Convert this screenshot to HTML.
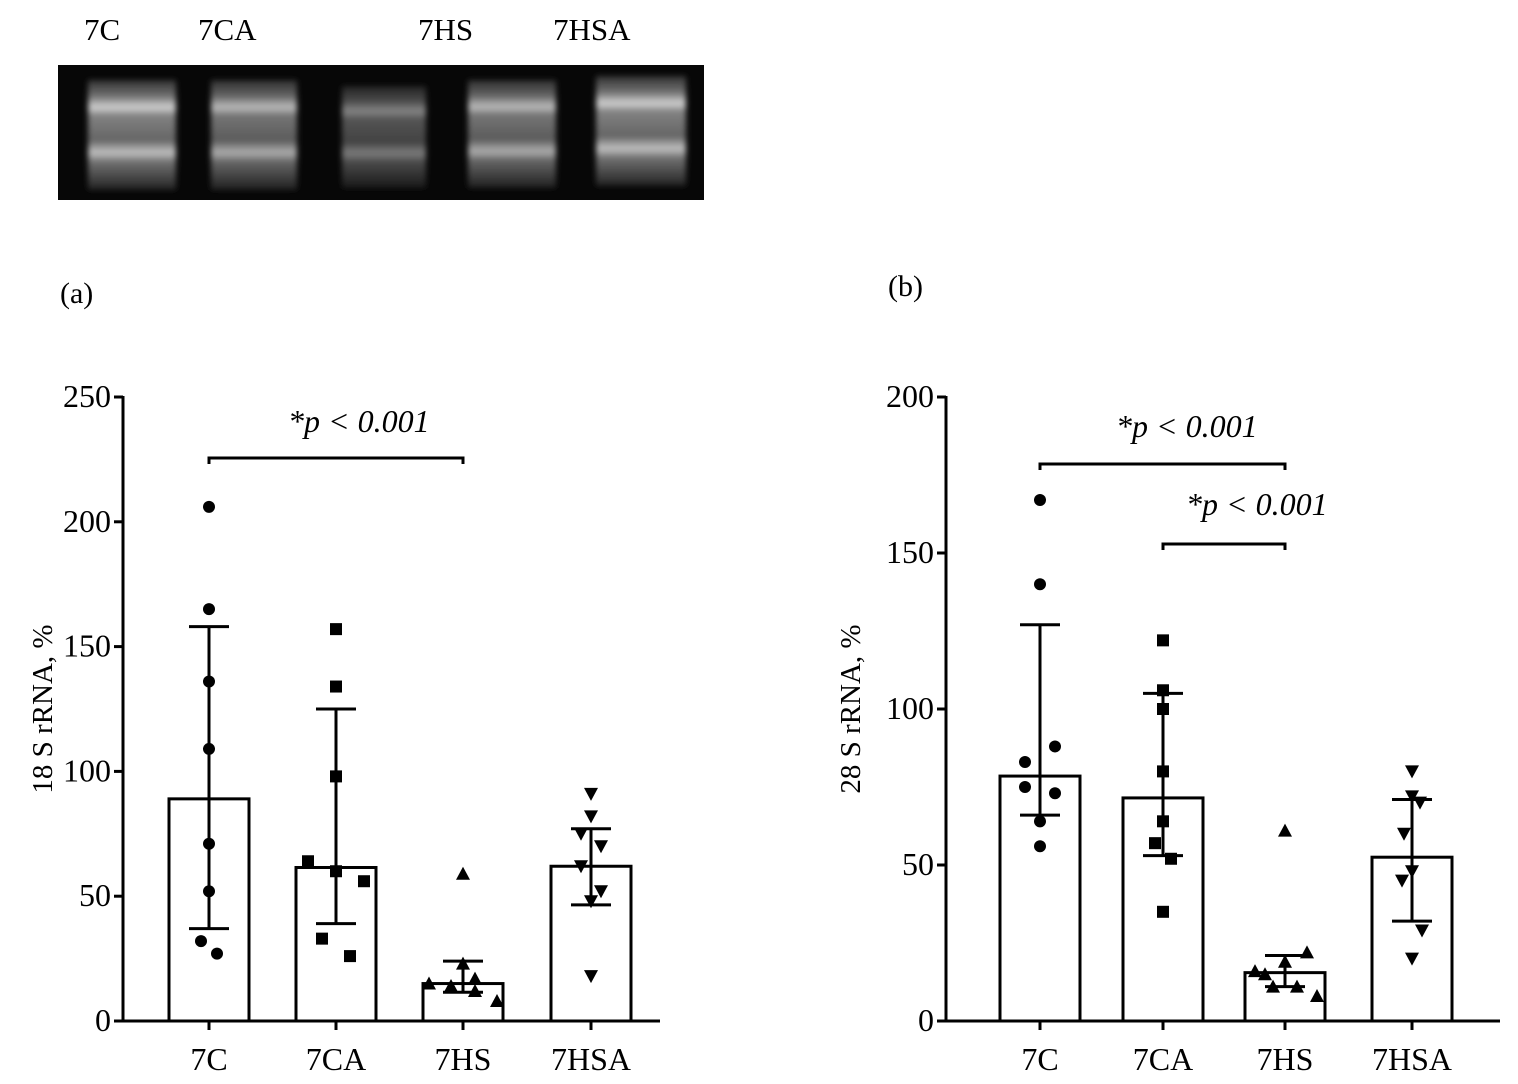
<!DOCTYPE html>
<html><head><meta charset="utf-8"><style>
html,body{margin:0;padding:0;background:#fff;}
svg{display:block;font-family:"Liberation Serif",serif;}
</style></head><body>
<svg id="s" width="1518" height="1084" viewBox="0 0 1518 1084">
<defs>
<linearGradient id="lane" x1="0" y1="0" x2="0" y2="1">
<stop offset="0" stop-color="#333"/><stop offset="0.15" stop-color="#777"/><stop offset="0.25" stop-color="#ddd"/><stop offset="0.32" stop-color="#888"/>
<stop offset="0.55" stop-color="#6a6a6a"/><stop offset="0.66" stop-color="#ccc"/><stop offset="0.74" stop-color="#777"/><stop offset="0.9" stop-color="#444"/><stop offset="1" stop-color="#222"/>
</linearGradient>
<filter id="blur"><feGaussianBlur stdDeviation="3"/></filter>
</defs>
<g>
<rect x="58" y="65" width="646" height="135" fill="#070707"/>
<g filter="url(#blur)">
<rect x="88" y="80" width="88" height="110" fill="url(#lane)" opacity="0.95"/>
<rect x="211" y="80" width="86" height="110" fill="url(#lane)" opacity="0.85"/>
<rect x="342" y="86" width="84" height="102" fill="url(#lane)" opacity="0.6"/>
<rect x="468" y="80" width="88" height="108" fill="url(#lane)" opacity="0.85"/>
<rect x="596" y="76" width="90" height="110" fill="url(#lane)" opacity="0.95"/>
</g>
</g>
<g font-size="31">
<text x="84" y="40">7C</text>
<text x="198" y="40">7CA</text>
<text x="418" y="40">7HS</text>
<text x="553" y="40">7HSA</text>
</g>
<text x="60" y="303" font-size="30">(a)</text>
<text x="888" y="296" font-size="30">(b)</text>
<g id="ga"></g>
<g id="gb"></g>
</svg>
<script>
const categories = ["7C","7CA","7HS","7HSA"];
const shapes = ["circle","square","triangle","down"];
const aMeans = [89, 61.5, 15, 62];
const aLow = [37, 39, 11.5, 46.5];
const aHigh = [158, 125, 24, 77];
const aPts7C = [206, 165, 136, 109, 71, 52, 32, 27];
const aPts7CA = [157, 134, 98, 64, 60, 56, 33, 26];
const aPts7HS = [59, 23, 17, 15, 14, 12, 8];
const aPts7HSA = [91, 82, 75, 70, 62, 52, 48, 18];
const bMeans = [78.5, 71.5, 15.5, 52.5];
const bLow = [66, 53, 11, 32];
const bHigh = [127, 105, 21, 71];
const bPts7C = [167, 140, 88, 83, 75, 73, 64, 56];
const bPts7CA = [122, 106, 100, 80, 64, 57, 52, 35];
const bPts7HS = [61, 22, 19, 16, 15, 11, 11, 8];
const bPts7HSA = [80, 72, 70, 60, 48, 45, 29, 20];
const aTicks = [0,50,100,150,200,250];
const bTicks = [0,50,100,150,200];
const jitter = {
 a:[[0,0,0,0,0,0,-8,8],[0,0,0,-28,0,28,-14,14],[0,0,12,-34,-12,12,34],[0,0,-10,10,-10,10,0,0]],
 b:[[0,0,15,-15,-15,15,0,0],[0,0,0,0,0,-8,8,0],[0,22,0,-30,-20,-12,12,32],[0,0,8,-8,0,-10,10,0]]
};
const NS="http://www.w3.org/2000/svg";
function mk(p,tag,at){const e=document.createElementNS(NS,tag);for(const k in at)e.setAttribute(k,at[k]);p.appendChild(e);return e;}
function draw(g,cfg){
 const y=v=>cfg.y0-(v/cfg.max)*(cfg.y0-cfg.yTop);
 const x=i=>cfg.cx[i];
 let e=mk(g,"line",{x1:cfg.ax,y1:cfg.yTop-1,x2:cfg.ax,y2:cfg.y0+1,stroke:"#000","stroke-width":3});
 
 
 e=mk(g,"line",{x1:cfg.ax-1,y1:cfg.y0,x2:cfg.axEnd,y2:cfg.y0,stroke:"#000","stroke-width":3});
 
 
 cfg.ticks.forEach(t=>{
  mk(g,"line",{x1:cfg.ax-9,y1:y(t),x2:cfg.ax,y2:y(t),stroke:"#000","stroke-width":3});
  const tx=mk(g,"text",{x:cfg.ax-12,y:y(t)+10,"font-size":32,"text-anchor":"end"});tx.textContent=t;
  
  
 });
 const yl=mk(g,"text",{transform:`translate(${cfg.ylx},${(cfg.y0+cfg.yTop)/2}) rotate(-90)`,"font-size":29,"text-anchor":"middle"});
 yl.textContent=cfg.ylabel;
 
 
 categories.forEach((c,i)=>{
  mk(g,"line",{x1:x(i),y1:cfg.y0,x2:x(i),y2:cfg.y0+9,stroke:"#000","stroke-width":3});
  const t=mk(g,"text",{x:x(i),y:cfg.y0+49,"font-size":32,"text-anchor":"middle"});t.textContent=c;
  
  
  const b=mk(g,"rect",{x:x(i)-40,y:y(cfg.means[i]),width:80,height:cfg.y0-y(cfg.means[i]),fill:"#fff",stroke:"#000","stroke-width":3});
  
  
  cfg.pts[i].forEach((v,j)=>{
   const px=x(i)+cfg.jit[i][j],py=y(v);let m;
   if(shapes[i]=="circle")m=mk(g,"circle",{cx:px,cy:py,r:6});
   else if(shapes[i]=="square")m=mk(g,"rect",{x:px-6,y:py-6,width:12,height:12});
   else if(shapes[i]=="triangle")m=mk(g,"polygon",{points:`${px},${py-7} ${px-7},${py+6} ${px+7},${py+6}`});
   else m=mk(g,"polygon",{points:`${px},${py+7} ${px-7},${py-6} ${px+7},${py-6}`});
   
   
  });
  const eg=mk(g,"path",{d:`M${x(i)},${y(cfg.low[i])}V${y(cfg.high[i])}M${x(i)-20},${y(cfg.high[i])}H${x(i)+20}M${x(i)-20},${y(cfg.low[i])}H${x(i)+20}`,stroke:"#000","stroke-width":3,fill:"none"});
  
  
 });
 cfg.sig.forEach(s=>{
  const yy=s[2];
  const p=mk(g,"path",{d:`M${x(s[0])},${yy+6}V${yy}H${x(s[1])}V${yy+6}`,stroke:"#000","stroke-width":3,fill:"none"});
  
  
  const t=mk(g,"text",{x:s[3],y:s[4],"font-size":32,"font-style":"italic"});
  t.textContent="*p < 0.001";
  
  
 });
}
draw(document.getElementById("ga"),{ax:123,axEnd:660,y0:1021,yTop:397,max:250,ticks:aTicks,cx:[209,336,463,591],ylx:52,ylabel:"18 S rRNA, %",
 means:aMeans,low:aLow,high:aHigh,pts:[aPts7C,aPts7CA,aPts7HS,aPts7HSA],jit:jitter.a,sig:[[0,2,458,288,432]]});
draw(document.getElementById("gb"),{ax:946,axEnd:1500,y0:1021,yTop:397,max:200,ticks:bTicks,cx:[1040,1163,1285,1412],ylx:860,ylabel:"28 S rRNA, %",
 means:bMeans,low:bLow,high:bHigh,pts:[bPts7C,bPts7CA,bPts7HS,bPts7HSA],jit:jitter.b,sig:[[0,2,464,1116,437],[1,2,544,1186,515]]});
</script>
</body></html>
